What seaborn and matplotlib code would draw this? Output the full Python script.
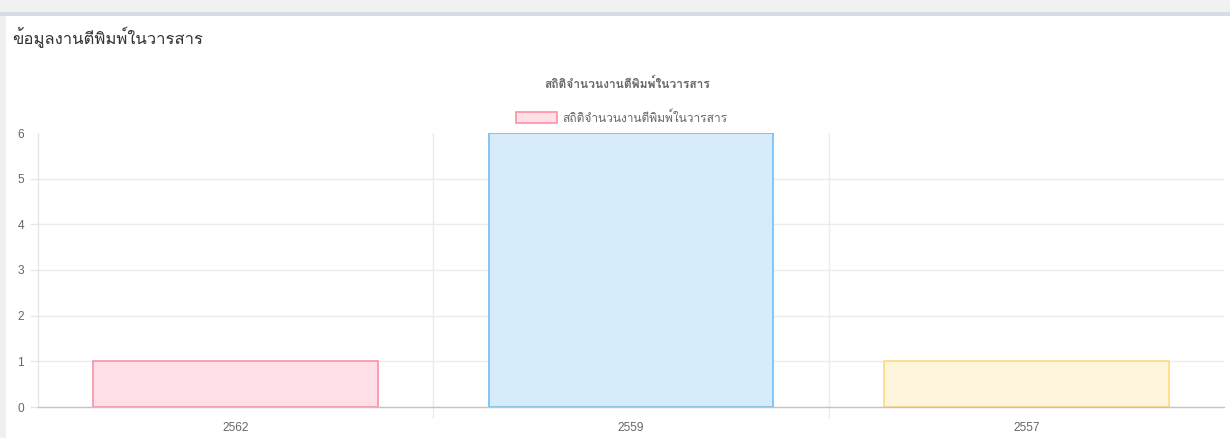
import matplotlib
matplotlib.use("Agg")
import matplotlib.pyplot as plt
from matplotlib.patches import Patch, Rectangle
import seaborn as sns
import pandas as pd

years = ["2562", "2559", "2557"]
counts = [1, 6, 1]
page_title = "ข้อมูลงานตีพิมพ์ในวารสาร"
chart_title = "สถิติจำนวนงานตีพิมพ์ในวารสาร"
series_label = "สถิติจำนวนงานตีพิมพ์ในวารสาร"
fill_colors = ["#FFE0E6", "#D7ECFB", "#FFF5DD"]
edge_colors = ["#FF8FA6", "#72BDF0", "#FFD983"]

sns.set_theme(style="white")
plt.rcParams["font.family"] = ["Liberation Sans", "Loma", "DejaVu Sans"]
THAI = ["Loma", "DejaVu Sans"]

W, H = 1230, 438
fig = plt.figure(figsize=(W / 100, H / 100), dpi=100)
fig.patch.set_facecolor("white")

# page chrome
fig.patches.append(Rectangle((0, 1 - 12 / H), 1, 12 / H, transform=fig.transFigure,
                             facecolor="#F1F1F1", edgecolor="none", zorder=0))
fig.patches.append(Rectangle((0, 1 - 16 / H), 1, 4 / H, transform=fig.transFigure,
                             facecolor="#D6DCE4", edgecolor="none", zorder=0))
fig.patches.append(Rectangle((0, 0), 6 / W, 1 - 16 / H, transform=fig.transFigure,
                             facecolor="#EFEFEF", edgecolor="none", zorder=0))

ax = fig.add_axes([38 / W, (H - 407) / H, (1224 - 38) / W, (407 - 133) / H])

df = pd.DataFrame({"year": years, "count": counts})
sns.barplot(data=df, x="year", y="count", ax=ax, width=0.72, saturation=1,
            palette=fill_colors, hue="year", legend=False, linewidth=1.2, zorder=3)
for p, ec in zip(ax.patches, edge_colors):
    p.set_edgecolor(ec)

ax.set_xlim(-0.5, 2.5)
ax.set_ylim(0, 6)
ax.set_xlabel("")
ax.set_ylabel("")
for s in ["top", "right"]:
    ax.spines[s].set_visible(False)
ax.spines["left"].set_color("#E6E6E6")
ax.spines["left"].set_linewidth(1)
ax.spines["bottom"].set_color("#C4C4C4")
ax.spines["bottom"].set_linewidth(1)
ax.spines["bottom"].set_zorder(4)

ax.set_yticks(range(0, 7))
ax.yaxis.grid(True, color="#EBEBEB", linewidth=1)
ax.tick_params(axis="y", which="major", left=True, length=6, width=1, color="#E6E6E6",
               labelsize=8.6, labelcolor="#666666", pad=4)
ax.set_xticks([0.5, 1.5], minor=True)
ax.xaxis.grid(True, which="minor", color="#EBEBEB", linewidth=1)
ax.tick_params(axis="x", which="minor", bottom=True, length=8, width=1, color="#EBEBEB")
ax.tick_params(axis="x", which="major", bottom=False, length=0, labelsize=8.6,
               labelcolor="#666666", pad=11)
ax.set_axisbelow(True)
# no grid line / tick mark along the top value
ax.get_ygridlines()[-1].set_visible(False)
ax.yaxis.get_major_ticks()[-1].tick1line.set_visible(False)

fig.text(12 / W, 1 - 37 / H, page_title, fontsize=12, color="#333333", va="center",
         family=THAI)
fig.text(627 / W, 1 - 83 / H, chart_title, fontsize=8.6, color="#666666", ha="center",
         va="center", fontweight="bold", family=THAI)

handle = Patch(facecolor=fill_colors[0], edgecolor=edge_colors[0], linewidth=1.2)
leg = fig.legend([handle], [series_label], loc="center", bbox_to_anchor=(622 / W, 1 - 117 / H),
                 frameon=False, handlelength=3.4, handleheight=1.1, handletextpad=0.45,
                 prop={"family": THAI, "size": 8.6}, borderpad=0)
for t in leg.get_texts():
    t.set_color("#666666")

fig.savefig("out.png", dpi=100)
